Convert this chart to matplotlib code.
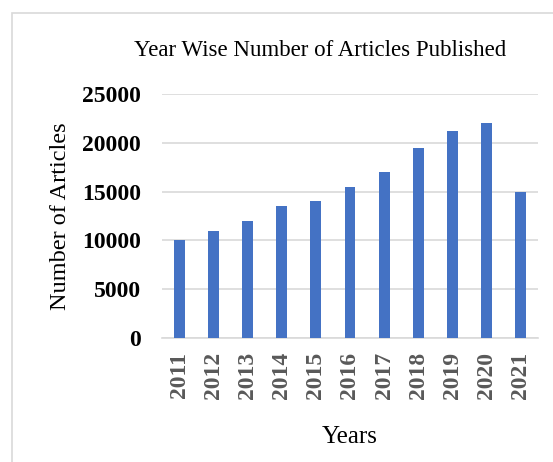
import matplotlib
import matplotlib.pyplot as plt
from matplotlib.patches import Rectangle

matplotlib.use('agg')

years = ['2011', '2012', '2013', '2014', '2015', '2016', '2017', '2018', '2019', '2020', '2021']
articles = [10000, 11000, 12000, 13500, 14000, 15500, 17000, 19500, 21250, 22000, 15000]
y_ticks = [0, 5000, 10000, 15000, 20000, 25000]

W, H = 553, 462
plt.rcParams['font.family'] = ['Liberation Serif', 'DejaVu Serif']

fig = plt.figure(figsize=(W / 100, H / 100), dpi=100)

# chart border (cropped at right and bottom in the reference)
fig.patches.append(Rectangle((12 / W, -0.1), 1.2, 1 - 13 / H + 0.1, transform=fig.transFigure,
                             fill=False, edgecolor='#d9d9d9', linewidth=1.2))

ax = fig.add_axes([162 / W, 1 - 338 / H, (538 - 162) / W, (338 - 94) / H])
x = range(len(years))
ax.bar(x, articles, width=0.32, color='#4472C4', zorder=3)

ax.set_xlim(-0.5, len(years) - 0.5)
ax.set_ylim(0, 25000)
ax.set_yticks(y_ticks)
ax.set_yticklabels([str(v) for v in y_ticks], fontsize=17, fontweight='bold', color='black')
ax.set_xticks(list(x))
ax.set_xticklabels(years, rotation=90, fontsize=17, fontweight='bold', color='#595959')
ax.tick_params(length=0, pad=15, axis='y')
ax.tick_params(length=0, pad=10, axis='x')

ax.grid(axis='y', color='#d9d9d9', linewidth=1.2, zorder=0)
for s in ['top', 'right', 'left']:
    ax.spines[s].set_visible(False)
ax.spines['bottom'].set_color('#d9d9d9')
ax.spines['bottom'].set_linewidth(1.2)

ax.set_ylabel('Number of Articles', fontsize=17.5)
ax.yaxis.set_label_coords(60 / W, 1 - 216 / H, transform=fig.transFigure)
ax.set_xlabel('Years', fontsize=18)
ax.xaxis.set_label_coords(350 / W, 1 - 437 / H, transform=fig.transFigure)
ax.xaxis.label.set_va('center')
ax.yaxis.label.set_va('center')
fig.text(320 / W, 1 - 51 / H, 'Year Wise Number of Articles Published', fontsize=16.5,
         ha='center', va='center')

fig.savefig('out.png', dpi=100)
